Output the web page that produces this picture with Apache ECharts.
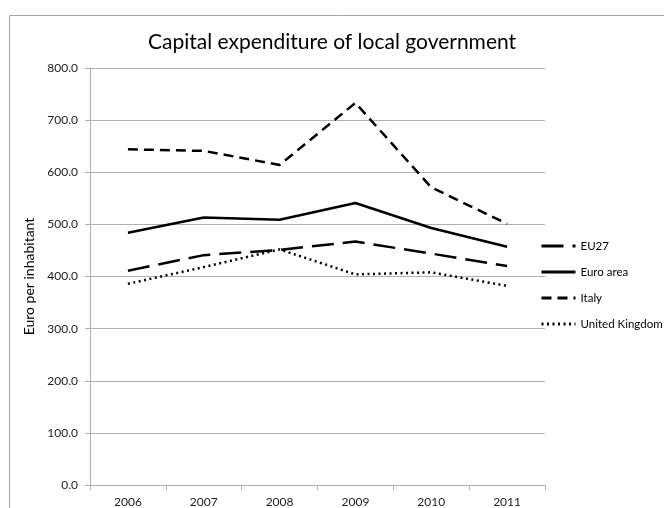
<!DOCTYPE html>
<html>
<head>
<meta charset="utf-8">
<script src="https://cdn.jsdelivr.net/npm/echarts@6/dist/echarts.min.js"></script>
<style>
  html, body { margin: 0; padding: 0; background: #fff; }
  #chart { width: 664px; height: 508px; }
</style>
</head>
<body>
<div id="chart"></div>
<script>
// Capital expenditure of local government, euro per inhabitant
const years = ['2006', '2007', '2008', '2009', '2010', '2011'];
const eu27 = [411, 441, 451, 467, 444, 420];
const euroArea = [484, 513, 509, 541, 493, 457];
const italy = [644, 641, 614, 733, 571, 501];
const unitedKingdom = [386, 418, 452, 404, 408, 382];

const FONT = 'Lato, "Open Sans", sans-serif';
const GRID_GREY = '#b0b0b0';

const chart = echarts.init(document.getElementById('chart'), null, { renderer: 'canvas' });

function lineSeries(name, data, width, type) {
  return {
    name: name,
    type: 'line',
    data: data,
    symbol: 'none',
    smooth: false,
    lineStyle: { color: '#000', width: width, type: type, cap: 'butt' },
    itemStyle: { color: '#000' },
    emphasis: { disabled: true }
  };
}

chart.setOption({
  animation: false,
  backgroundColor: '#fff',
  textStyle: { fontFamily: FONT },
  title: {
    text: 'Capital expenditure of local government',
    left: 'center',
    top: 27,
    textStyle: { fontFamily: FONT, fontSize: 21, fontWeight: 'normal', color: '#000' }
  },
  graphic: [{
    type: 'rect',
    shape: { x: 9.5, y: 15.5, width: 700, height: 600 },
    style: { fill: 'none', stroke: '#a6a6a6', lineWidth: 1 },
    silent: true
  }],
  legend: {
    orient: 'vertical',
    left: 540,
    top: 239,
    padding: 0,
    itemWidth: 34,
    itemHeight: 10,
    itemGap: 12,
    itemStyle: { opacity: 0 },
    lineStyle: { width: 3 },
    textStyle: { fontFamily: FONT, fontSize: 11.5, lineHeight: 14, color: '#000' },
    data: ['EU27', 'Euro area', 'Italy', 'United Kingdom']
  },
  grid: { left: 90, right: 119, top: 68, bottom: 23 },
  xAxis: {
    type: 'category',
    data: years,
    boundaryGap: true,
    axisLine: { lineStyle: { color: GRID_GREY } },
    axisTick: { show: true, length: 5, lineStyle: { color: GRID_GREY } },
    axisLabel: { fontFamily: FONT, fontSize: 12, color: '#222', margin: 11 }
  },
  yAxis: {
    type: 'value',
    min: 0,
    max: 800,
    interval: 100,
    name: 'Euro per inhabitant',
    nameLocation: 'middle',
    nameGap: 46,
    nameTextStyle: { fontFamily: FONT, fontSize: 14, color: '#000' },
    axisLine: { show: true, lineStyle: { color: GRID_GREY } },
    axisTick: { show: true, length: 5, lineStyle: { color: GRID_GREY } },
    axisLabel: {
      fontFamily: FONT, fontSize: 12, color: '#222', margin: 12,
      formatter: function (v) { return v.toFixed(1); }
    },
    splitLine: { lineStyle: { color: GRID_GREY, width: 1 } }
  },
  series: [
    lineSeries('EU27', eu27, 2.5, [22, 9]),
    lineSeries('Euro area', euroArea, 2.5, 'solid'),
    lineSeries('Italy', italy, 2.5, [10, 6]),
    lineSeries('United Kingdom', unitedKingdom, 2.5, [2, 3.5])
  ]
});
</script>
</body>
</html>
